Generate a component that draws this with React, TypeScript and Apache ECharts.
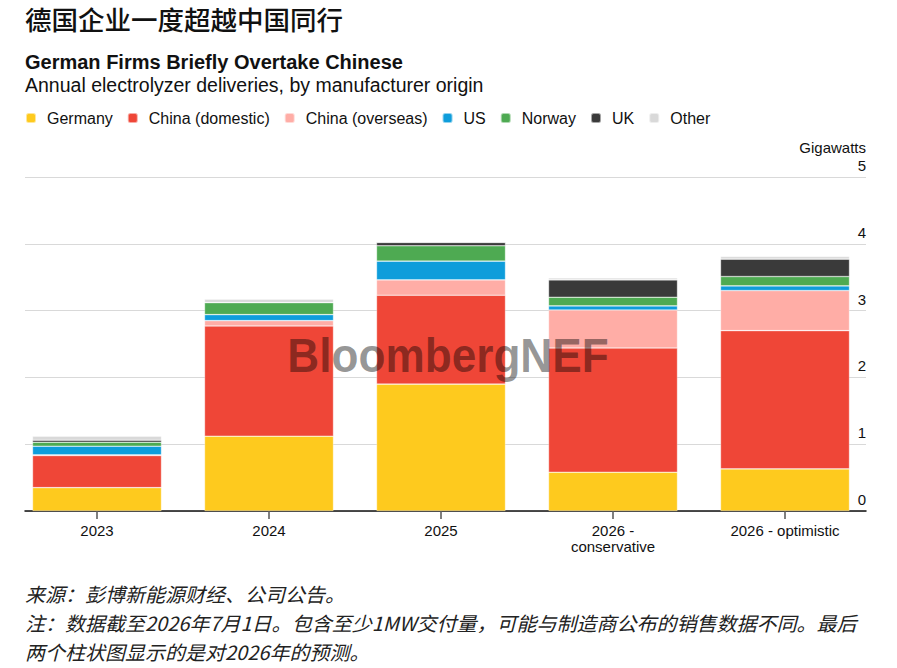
import React, { useEffect, useRef } from 'react';
import * as echarts from 'echarts';

const categories = ['2023', '2024', '2025', '2026 -\nconservative', '2026 - optimistic'];

const germany = [0.35, 1.12, 1.9, 0.58, 0.63];
const chinaDomestic = [0.48, 1.65, 1.33, 1.86, 2.07];
const chinaOverseas = [0.01, 0.08, 0.23, 0.57, 0.6];
const us = [0.13, 0.09, 0.28, 0.06, 0.07];
const norway = [0.06, 0.18, 0.23, 0.13, 0.14];
const uk = [0.03, 0, 0.05, 0.26, 0.26];
const other = [0.06, 0.05, 0.01, 0.03, 0.04];

const seriesNames = ['Germany', 'China (domestic)', 'China (overseas)', 'US', 'Norway', 'UK', 'Other'];
const seriesData = [germany, chinaDomestic, chinaOverseas, us, norway, uk, other];
const seriesColors = ['#FECA1E', '#EF4637', '#FFADA6', '#0E9DDB', '#4EAA52', '#3A3A3A', '#D9D9D9'];

const yMin = 0;
const yMax = 5;
const yInterval = 1;

const titleZh = '德国企业一度超越中国同行';
const titleEn = 'German Firms Briefly Overtake Chinese';
const subtitle = 'Annual electrolyzer deliveries, by manufacturer origin';
const unitLabel = 'Gigawatts';
const watermark = 'BloombergNEF';
const sourceLine = '来源：彭博新能源财经、公司公告。';
const noteLine1 = '注：数据截至2026年7月1日。包含至少1MW交付量，可能与制造商公布的销售数据不同。最后';
const noteLine2 = '两个柱状图显示的是对2026年的预测。';

const LATIN = '"Liberation Sans", Arial, Helvetica, sans-serif';
const CJK = '"Noto Sans CJK SC", "Noto Sans", sans-serif';

export default function App() {
  const ref = useRef<HTMLDivElement>(null);

  useEffect(() => {
    document.body.style.margin = '0';
    document.body.style.overflow = 'hidden';
    const chart = echarts.init(ref.current as HTMLDivElement, null, { renderer: 'svg' });

    const txt = (
      text: string,
      x: number,
      y: number,
      font: string,
      fill: string,
      align = 'left',
      lineHeight?: number,
      scaleX = 1
    ) => ({
      type: 'text',
      x,
      y,
      z: 50,
      scaleX,
      silent: true,
      style: {
        text,
        font,
        fill,
        lineHeight,
        align,
        verticalAlign: 'middle',
        textAlign: align,
        textVerticalAlign: 'middle',
      },
    });

    const option: any = {
      animation: false,
      backgroundColor: '#ffffff',
      textStyle: { fontFamily: LATIN },
      legend: {
        left: 25,
        top: 110,
        padding: 0,
        icon: 'roundRect',
        itemWidth: 10,
        itemHeight: 10,
        itemGap: 14,
        selectedMode: false,
        data: seriesNames,
        textStyle: { fontSize: 16, color: '#111', fontFamily: LATIN, padding: [0, 0, 0, 6] },
      },
      grid: [
        { left: 25, right: 31, top: 177, bottom: 157, outerBoundsMode: 'none', containLabel: false },
        { left: 11, right: 26, top: 177, bottom: 157, outerBoundsMode: 'none', containLabel: false },
      ],
      xAxis: [
        {
          gridIndex: 0,
          type: 'value',
          min: 0,
          max: 1,
          axisLine: { show: true, onZero: false, lineStyle: { color: '#111', width: 1.5 } },
          axisTick: { show: false },
          axisLabel: { show: false },
          splitLine: { show: false },
        },
        {
          gridIndex: 1,
          type: 'category',
          data: categories,
          axisLine: { show: false },
          axisTick: { show: true, alignWithLabel: true, interval: 0, length: 8, lineStyle: { color: '#555', width: 1.5 } },
          axisLabel: { interval: 0, fontSize: 15, color: '#111', margin: 12, lineHeight: 15.5, fontFamily: LATIN },
        },
      ],
      yAxis: [
        {
          gridIndex: 0,
          type: 'value',
          position: 'right',
          min: yMin,
          max: yMax,
          interval: yInterval,
          axisLine: { show: false },
          axisTick: { show: false },
          axisLabel: {
            inside: true,
            margin: 0,
            verticalAlign: 'bottom',
            padding: [0, 0, 4, 0],
            fontSize: 15,
            color: '#111',
            fontFamily: LATIN,
          },
          splitLine: { show: true, lineStyle: { color: '#d9d9d9', width: 1 } },
        },
        {
          gridIndex: 1,
          type: 'value',
          min: yMin,
          max: yMax,
          interval: yInterval,
          show: false,
          splitLine: { show: false },
        },
      ],
      series: seriesNames.map((name, i) => ({
        name,
        type: 'bar',
        stack: 'total',
        xAxisIndex: 1,
        yAxisIndex: 1,
        barWidth: 129,
        data: seriesData[i],
        itemStyle: { color: seriesColors[i], borderColor: 'rgba(255,255,255,0.55)', borderWidth: 0.6 },
        emphasis: { disabled: true },
      })),
      graphic: [
        txt(titleZh, 25, 18, `500 26.5px ${CJK}`, '#111'),
        txt(titleEn, 25, 62, `bold 20px ${LATIN}`, '#111'),
        txt(subtitle, 25, 85, `19.5px ${LATIN}`, '#111'),
        txt(unitLabel, 866, 147, `15px ${LATIN}`, '#111', 'right'),
        {
          type: 'text',
          x: 448,
          y: 355,
          z: 100,
          scaleX: 0.92,
          silent: true,
          style: {
            text: watermark,
            font: `bold 48px ${LATIN}`,
            fill: 'rgba(0,0,0,0.42)',
            align: 'center',
            verticalAlign: 'middle',
            textAlign: 'center',
            textVerticalAlign: 'middle',
          },
        },
        txt(sourceLine, 25, 594, `italic 19.5px ${CJK}`, '#222', 'left', 20, 1.026),
        txt(noteLine1, 25, 623, `italic 19.5px ${CJK}`, '#222', 'left', 20, 1.026),
        txt(noteLine2, 25, 652, `italic 19.5px ${CJK}`, '#222', 'left', 20, 1.026),
      ],
    };

    chart.setOption(option);
    return () => chart.dispose();
  }, []);

  return <div ref={ref} style={{ width: 897, height: 668 }} />;
}
